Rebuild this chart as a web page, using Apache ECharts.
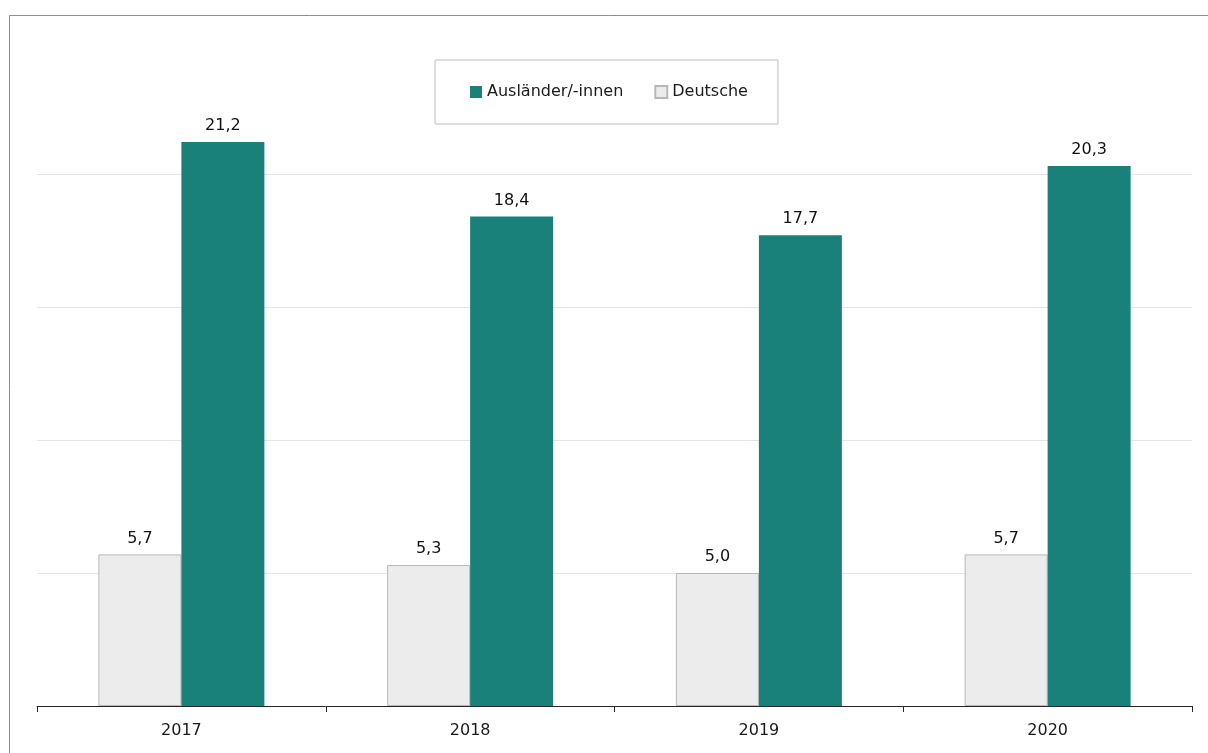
<!DOCTYPE html>
<html><head><meta charset="utf-8">
<script src="https://cdn.jsdelivr.net/npm/echarts@6/dist/echarts.min.js"></script>
<style>html,body{margin:0;padding:0;background:#fff}#c{width:1208px;height:753px}</style>
</head><body><div id="c"></div>
<script>
const categories = ['2017', '2018', '2019', '2020'];
const deutsche = [5.7, 5.3, 5.0, 5.7];
const auslaender = [21.2, 18.4, 17.7, 20.3];
const seriesNames = ['Ausländer/-innen', 'Deutsche'];

const font = 'DejaVu Sans';
const chart = echarts.init(document.getElementById('c'), null, {renderer: 'canvas'});
const fmt = p => p.value.toFixed(1).replace('.', ',');
chart.setOption({
  animation: false,
  graphic: [{type: 'rect', shape: {x: 9.5, y: 15.5, width: 1260, height: 800},
    style: {fill: 'none', stroke: '#8c8c8c', lineWidth: 1}, silent: true, z: -1}],
  legend: {
    data: seriesNames, left: 435, top: 60,
    padding: [24, 30, 24, 35], itemGap: 31, itemWidth: 12, itemHeight: 12,
    borderColor: '#bfbfbf', borderWidth: 1, icon: 'rect',
    textStyle: {fontFamily: font, fontSize: 16, color: '#1a1a1a'}
  },
  grid: {left: 37, right: 16, top: 41, bottom: 47},
  xAxis: {
    type: 'category', data: categories,
    axisLine: {lineStyle: {color: '#262626', width: 1}},
    axisTick: {show: true, length: 6, lineStyle: {color: '#262626'}},
    axisLabel: {fontFamily: font, fontSize: 16, color: '#1a1a1a', margin: 17}
  },
  yAxis: {
    type: 'value', min: 0, max: 25, interval: 5,
    axisLabel: {show: false}, axisLine: {show: false}, axisTick: {show: false},
    splitLine: {showMaxLine: false, showMinLine: false, lineStyle: {color: '#e4e4e4', width: 1}}
  },
  series: [
    {name: 'Deutsche', type: 'bar', data: deutsche, barWidth: 83, barGap: '0%',
      itemStyle: {color: '#ececec', borderColor: '#b8b8b8', borderWidth: 1},
      label: {show: true, position: 'top', distance: 8, formatter: fmt,
        fontFamily: font, fontSize: 16, color: '#111'}},
    {name: 'Ausländer/-innen', type: 'bar', data: auslaender, barWidth: 83, barGap: '0%',
      itemStyle: {color: '#19807a'},
      label: {show: true, position: 'top', distance: 8, formatter: fmt,
        fontFamily: font, fontSize: 16, color: '#111'}}
  ]
});
</script></body></html>
